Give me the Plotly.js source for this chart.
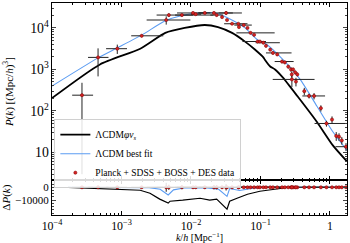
<!DOCTYPE html>
<html><head><meta charset="utf-8">
<script src="https://cdn.plot.ly/plotly-3.0.1.min.js"></script>
<style>html,body{margin:0;padding:0;background:#fff}#plot{width:350px;height:243px}</style>
</head><body><div id="plot"></div>
<script>
// ΛCDMφν_s model curve
const kModelA = [1e-4, 4.9e-4, 1.86e-3, 4.27e-3, 8.1e-3, 1.58e-2, 2.45e-2, 3.9e-2, 6.0e-2, 8.3e-2, 0.11, 0.115, 0.138, 0.162, 0.209, 0.339, 0.646, 1.10, 1.74];
const pModelA = [204, 1320, 3160, 7590, 10000, 11750, 10470, 7590, 4680, 3020, 1950, 1740, 1175, 1000, 645, 229, 55, 14.8, 6.2];
// ΛCDM best fit curve
const kModelB = [1e-4, 4.6e-4, 8.7e-4, 2.0e-3, 4.27e-3, 7.4e-3, 1.26e-2, 2.24e-2, 3.4e-2, 6.0e-2, 7.1e-2, 9.1e-2, 0.123, 0.209, 0.372, 0.646, 1.10, 1.76];
const pModelB = [398, 1900, 3310, 6900, 14800, 20000, 22900, 22900, 17400, 10000, 7600, 5130, 3980, 1740, 575, 132, 31.6, 11.2];
// Data: Planck + SDSS + BOSS + DES
const kData = [2.7e-4, 4.6e-4, 8.7e-4, 1.95e-3, 4.4e-3, 4.8e-3, 7.4e-3, 1.07e-2, 1.17e-2, 1.58e-2, 2.14e-2, 2.34e-2, 2.8e-2, 3.2e-2, 3.3e-2, 3.9e-2, 4.8e-2, 4.9e-2, 5.75e-2, 6.5e-2, 7.2e-2, 8.1e-2, 9.1e-2, 9.8e-2, 0.110, 0.120, 0.138, 0.151, 0.174, 0.204, 0.224, 0.251, 0.275, 0.295, 0.316, 0.282, 0.339, 0.283, 0.324, 0.427, 0.50, 0.59, 0.74, 0.89, 1.07, 1.23, 1.35, 1.48, 1.70];
const pData = [240, 1950, 3160, 6460, 15500, 20400, 20400, 22900, 21400, 22900, 22900, 20400, 18200, 22900, 15500, 12600, 12600, 10500, 11700, 10000, 7600, 6800, 4700, 4700, 4400, 3700, 3000, 2500, 2300, 1550, 1480, 1170, 1000, 1000, 850, 760, 760, 575, 510, 300, 230, 230, 117, 50, 62, 25, 24, 19.5, 13.8];
const pErr = [237, 1270, 800, 500, 3500, 2000, 1500, 1000, 800, 800, 1500, 1500, 1200, 2500, 1000, 800, 700, 600, 700, 600, 500, 450, 400, 350, 350, 300, 250, 220, 200, 150, 140, 120, 120, 100, 90, 120, 80, 200, 120, 60, 30, 40, 20, 8, 12, 6, 5, 4, 3];
const kLo = [1.95e-4, 3.3e-4, 6.0e-4, 1.38e-3, 2.3e-3, 3.2e-3, 5.9e-3, 6.3e-3, 1.0e-2, 1.3e-2, 1.26e-2, 1.9e-2, 2.8e-2, 2.5e-2, 3.3e-2, 3.0e-2, 4.8e-2, 4.9e-2, 4.2e-2, 6.5e-2, 4.5e-2, 8.1e-2, 5.5e-2, 9.8e-2, 0.085, 0.120, 0.138, 0.12, 0.174, 0.16, 0.224, 0.251, 0.275, 0.295, 0.316, 0.282, 0.339, 0.15, 0.324, 0.427, 0.40, 0.59, 0.74, 0.60, 1.07, 1.23, 1.35, 1.48, 1.20];
const kHi = [3.9e-4, 6.5e-4, 1.2e-3, 4.0e-3, 9.8e-3, 1.07e-2, 2.1e-2, 1.7e-2, 1.4e-2, 1.9e-2, 5.4e-2, 2.9e-2, 2.8e-2, 4.0e-2, 3.3e-2, 6.5e-2, 4.8e-2, 4.9e-2, 7.5e-2, 6.5e-2, 0.16, 8.1e-2, 0.12, 9.8e-2, 0.19, 0.120, 0.138, 0.28, 0.174, 0.30, 0.224, 0.251, 0.275, 0.295, 0.316, 0.282, 0.339, 0.60, 0.324, 0.427, 0.85, 0.59, 0.74, 1.75, 1.07, 1.23, 1.35, 1.48, 1.75];
// Residuals ΔP(k)
const kResA = [1.7e-4, 4.9e-4, 1.86e-3, 2.57e-3, 3.55e-3, 4.7e-3, 5.0e-3, 7.6e-3, 1.07e-2, 1.35e-2, 1.86e-2, 2.34e-2, 3.3e-2, 3.6e-2, 4.6e-2, 6.5e-2, 9.8e-2, 0.151, 0.263, 0.40, 1.0, 1.75];
const dResA = [0, -800, -2300, -4600, -9200, -12300, -10800, -10000, -9200, -8500, -10000, -9200, -16900, -10800, -8500, -5400, -3100, -1500, 0, 0, 0, 0];
const kResB = [1.7e-4, 2.5e-3, 3.6e-3, 4.7e-3, 5.6e-3, 7.9e-3, 1.58e-2, 2.5e-2, 3.3e-2, 3.6e-2, 5.0e-2, 6.3e-2, 7.9e-2, 0.13, 0.40, 1.0, 1.75];
const dResB = [0, -300, -1500, -6000, -2000, -500, -300, -1500, -7000, -1000, -2500, -1500, -800, 0, 0, 0, 0];

const kPlus = kData.map((k, i) => kHi[i] - k);
const kMinus = kData.map((k, i) => k - kLo[i]);
const zeros = kData.map(() => 0);

const FONT = 'Liberation Serif, DejaVu Serif, serif';
const dataMarker = {color: '#d42424', size: 3.2, line: {color: '#800000', width: 0.5}};
const ex = {type: 'data', array: kPlus, arrayminus: kMinus, color: '#222', thickness: 1, width: 0};
const ey = {type: 'data', array: pErr, color: '#222', thickness: 1, width: 0};

const traces = [
  {x: kModelA, y: pModelA, mode: 'lines', line: {color: '#000', width: 1.8, shape: 'spline', smoothing: 0.6}, name: 'ΛCDM<i>φν</i><sub><i>s</i></sub>', xaxis: 'x', yaxis: 'y'},
  {x: kModelB, y: pModelB, mode: 'lines', line: {color: '#5b9cf2', width: 1.1, shape: 'spline', smoothing: 0.6}, name: 'ΛCDM best fit', xaxis: 'x', yaxis: 'y'},
  {x: kData, y: pData, mode: 'markers', marker: dataMarker, error_x: ex, error_y: ey, name: 'Planck + SDSS + BOSS + DES data', xaxis: 'x', yaxis: 'y'},
  {x: kResA, y: dResA, mode: 'lines', line: {color: '#000', width: 1.2}, showlegend: false, xaxis: 'x2', yaxis: 'y2'},
  {x: kResB, y: dResB, mode: 'lines', line: {color: '#5b9cf2', width: 1.1}, showlegend: false, xaxis: 'x2', yaxis: 'y2'},
  {x: kData, y: zeros, mode: 'markers', marker: dataMarker, error_x: ex, error_y: {type: 'data', array: pErr, color: '#222', thickness: 1, width: 0}, showlegend: false, xaxis: 'x2', yaxis: 'y2'}
];

const split = 0.1636;
const axX = {type: 'log', range: [-4, 0.245], dtick: 1, ticks: 'inside', ticklen: 4, tickcolor: '#000', showline: true, linecolor: '#000', linewidth: 1, mirror: 'ticks', showgrid: false, zeroline: false,
  minor: {ticks: 'inside', ticklen: 2, dtick: 'D1', tickcolor: '#000', showgrid: false}};
const layout = {
  width: 350, height: 243,
  margin: {l: 52, r: 3, t: 3, b: 28},
  paper_bgcolor: '#fff', plot_bgcolor: '#fff',
  font: {family: FONT, size: 11, color: '#000'},
  showlegend: true,
  legend: {x: 0.008, y: 0.452, xanchor: 'left', yanchor: 'top', bgcolor: 'rgba(255,255,255,0.85)', bordercolor: '#d0d0d0', borderwidth: 1, font: {family: FONT, size: 9.5}, tracegroupgap: 0, itemwidth: 30},
  xaxis: Object.assign({}, axX, {domain: [0, 1], anchor: 'y', showticklabels: false, matches: 'x2'}),
  xaxis2: Object.assign({}, axX, {domain: [0, 1], anchor: 'y2', showticklabels: true, exponentformat: 'power', tickfont: {size: 9.5},
    title: {text: '<i>k</i>/<i>h</i> [Mpc<sup>−1</sup>]', font: {size: 10}, standoff: 4}}),
  yaxis: {type: 'log', domain: [split, 1], range: [0.33, 4.6], dtick: 1, exponentformat: 'power', ticks: 'inside', ticklen: 4, showline: true, linecolor: '#000', mirror: 'ticks', showgrid: false, zeroline: false,
    minor: {ticks: 'inside', ticklen: 2, dtick: 'D1', showgrid: false}, tickfont: {size: 11},
    title: {text: '<i>P</i>(<i>k</i>) [(Mpc/<i>h</i>)<sup>3</sup>]', font: {size: 11}, standoff: 14}},
  yaxis2: {domain: [0, split], range: [-21500, 5400], tickvals: [0, -10000], ticktext: ['0', '−10000'], ticks: 'inside', ticklen: 4, showline: true, linecolor: '#000', mirror: 'ticks', showgrid: false, zeroline: false,
    minor: {ticks: 'inside', ticklen: 2, dtick: 2500, showgrid: false}, tickfont: {size: 11},
    title: {text: 'Δ<i>P</i>(<i>k</i>)', font: {size: 11}, standoff: 2}}
};
Plotly.newPlot('plot', traces, layout, {displayModeBar: false, staticPlot: true});
</script></body></html>
